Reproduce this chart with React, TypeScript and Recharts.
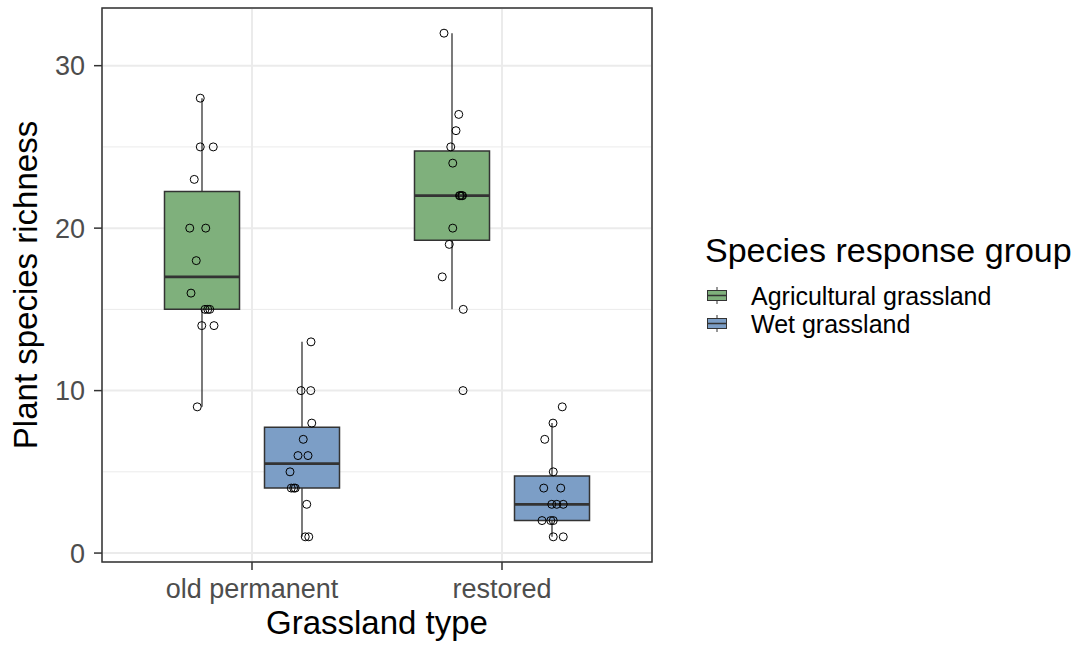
import {
  ComposedChart,
  Scatter,
  XAxis,
  YAxis,
  CartesianGrid,
  ReferenceArea,
  ReferenceLine,
  Legend,
  Label,
} from "recharts";

// grassland types on the x axis, response groups dodged inside each
const grasslandTypes = ["old permanent", "restored"];
const responseGroups = ["Agricultural grassland", "Wet grassland"];
const groupColors = ["#7fb07c", "#7c9ec6"];
const groupOffsets = [-0.2, 0.2];

const yTicks = [0, 10, 20, 30];
const yMinorTicks = [5, 15, 25];

// plant species richness per plot (jittered x)
const oldAgriRichness = [28, 25, 25, 23, 20, 20, 18, 16, 15, 15, 15, 14, 14, 9];
const oldAgriX = [0.793, 0.793, 0.845, 0.769, 0.751, 0.815, 0.777, 0.756, 0.812, 0.823, 0.831, 0.799, 0.848, 0.781];
const oldWetRichness = [13, 10, 10, 8, 7, 6, 6, 5, 4, 4, 4, 3, 1, 1];
const oldWetX = [1.236, 1.196, 1.235, 1.239, 1.205, 1.184, 1.224, 1.152, 1.157, 1.167, 1.173, 1.219, 1.213, 1.227];
const resAgriRichness = [32, 27, 26, 25, 24, 22, 22, 22, 22, 20, 19, 17, 15, 10];
const resAgriX = [1.768, 1.827, 1.816, 1.795, 1.803, 1.83, 1.833, 1.839, 1.842, 1.803, 1.789, 1.761, 1.845, 1.844];
const resWetRichness = [9, 8, 7, 5, 4, 4, 3, 3, 3, 2, 2, 2, 1, 1];
const resWetX = [2.241, 2.204, 2.171, 2.205, 2.167, 2.235, 2.199, 2.219, 2.245, 2.16, 2.195, 2.205, 2.205, 2.245];

const FONT = "'Liberation Sans', Arial, sans-serif";
const BOX_WIDTH = 0.3;

// R type 7 quantile
const quantile = (sorted: number[], p: number) => {
  const h = (sorted.length - 1) * p;
  const lo = Math.floor(h);
  const hi = Math.ceil(h);
  return sorted[lo] + (h - lo) * (sorted[hi] - sorted[lo]);
};

const boxStats = (values: number[]) => {
  const s = [...values].sort((a, b) => a - b);
  const q1 = quantile(s, 0.25);
  const med = quantile(s, 0.5);
  const q3 = quantile(s, 0.75);
  const iqr = q3 - q1;
  const lower = Math.min(...s.filter((v) => v >= q1 - 1.5 * iqr));
  const upper = Math.max(...s.filter((v) => v <= q3 + 1.5 * iqr));
  return { q1, med, q3, lower, upper };
};

const groups = [
  { type: 0, resp: 0, y: oldAgriRichness, x: oldAgriX },
  { type: 0, resp: 1, y: oldWetRichness, x: oldWetX },
  { type: 1, resp: 0, y: resAgriRichness, x: resAgriX },
  { type: 1, resp: 1, y: resWetRichness, x: resWetX },
].map((g) => ({
  ...g,
  center: g.type + 1 + groupOffsets[g.resp],
  fill: groupColors[g.resp],
  stats: boxStats(g.y),
}));

const points = groups.flatMap((g) => g.y.map((v, i) => ({ x: g.x[i], y: v })));

const HollowPoint = (props: any) => (
  <circle cx={props.cx} cy={props.cy} r={4} fill="none" stroke="#000" strokeWidth={1} />
);

const LegendBox = () => (
  <div style={{ fontFamily: FONT, color: "#000" }}>
    <div style={{ fontSize: 34, lineHeight: "34px", whiteSpace: "nowrap" }}>Species response group</div>
    <div style={{ marginTop: 15 }}>
      {responseGroups.map((name, i) => (
        <div key={name} style={{ position: "relative", height: 28, whiteSpace: "nowrap" }}>
          <svg width={24} height={28} style={{ position: "absolute", left: 2, top: 0 }}>
            <line x1={10} x2={10} y1={5} y2={22} stroke="#333" strokeWidth={1} />
            <rect x={0.5} y={8.5} width={19} height={10} fill={groupColors[i]} stroke="#333" strokeWidth={1} />
            <line x1={0.5} x2={19.5} y1={13.5} y2={13.5} stroke="#333" strokeWidth={1.5} />
          </svg>
          <div
            style={{
              position: "absolute",
              left: 46,
              top: 0,
              height: 28,
              fontSize: 25,
              lineHeight: "28px",
            }}
          >
            {name}
          </div>
        </div>
      ))}
    </div>
  </div>
);

const App = () => {
  return (
    <div style={{ position: "absolute", left: 0, top: 0, background: "#fff" }}>
      <ComposedChart
        width={1082}
        height={646}
        margin={{ top: 8, right: 430, left: 0, bottom: 0 }}
        style={{ fontFamily: FONT }}
      >
        <XAxis
          type="number"
          dataKey="x"
          domain={[0.4, 2.6]}
          ticks={[1, 2]}
          allowDataOverflow
          height={84}
          tickFormatter={(v: number) => grasslandTypes[v - 1]}
          tick={{ fill: "#4d4d4d", fontSize: 27, fontFamily: FONT }}
          tickSize={8}
          tickMargin={9}
          tickLine={{ stroke: "#333", strokeWidth: 1.5 }}
          axisLine={false}
        >
          <Label
            content={(p: any) => (
              <text
                x={p.viewBox.x + p.viewBox.width / 2}
                y={p.viewBox.y + 72}
                textAnchor="middle"
                fontSize={33}
                fontFamily={FONT}
                fill="#000"
              >
                Grassland type
              </text>
            )}
          />
        </XAxis>
        <YAxis
          type="number"
          dataKey="y"
          domain={[-0.55, 33.55]}
          ticks={yTicks}
          allowDataOverflow
          width={102}
          tick={{ fill: "#4d4d4d", fontSize: 27, fontFamily: FONT }}
          tickSize={8}
          tickMargin={9}
          tickLine={{ stroke: "#333", strokeWidth: 1.5 }}
          axisLine={false}
        >
          <Label
            content={(p: any) => {
              const cy = p.viewBox.y + p.viewBox.height / 2;
              return (
                <text
                  x={37}
                  y={cy}
                  transform={`rotate(-90, 37, ${cy})`}
                  textAnchor="middle"
                  fontSize={33}
                  fontFamily={FONT}
                  fill="#000"
                >
                  Plant species richness
                </text>
              );
            }}
          />
        </YAxis>
        <YAxis yAxisId="minor" type="number" domain={[-0.55, 33.55]} ticks={yMinorTicks} allowDataOverflow hide />

        <CartesianGrid yAxisId="minor" vertical={false} stroke="#ebebeb" strokeWidth={1} />
        <CartesianGrid stroke="#ebebeb" strokeWidth={2} />

        {groups.map((g) => (
          <ReferenceArea
            key={`box-${g.type}-${g.resp}`}
            x1={g.center - BOX_WIDTH / 2}
            x2={g.center + BOX_WIDTH / 2}
            y1={g.stats.q1}
            y2={g.stats.q3}
            fill={g.fill}
            fillOpacity={1}
            stroke="#333"
            strokeWidth={1.5}
          />
        ))}
        {groups.map((g) => (
          <ReferenceLine
            key={`wu-${g.type}-${g.resp}`}
            segment={[
              { x: g.center, y: g.stats.q3 },
              { x: g.center, y: g.stats.upper },
            ]}
            stroke="#333"
            strokeWidth={1.3}
          />
        ))}
        {groups.map((g) => (
          <ReferenceLine
            key={`wl-${g.type}-${g.resp}`}
            segment={[
              { x: g.center, y: g.stats.q1 },
              { x: g.center, y: g.stats.lower },
            ]}
            stroke="#333"
            strokeWidth={1.3}
          />
        ))}
        {groups.map((g) => (
          <ReferenceLine
            key={`med-${g.type}-${g.resp}`}
            segment={[
              { x: g.center - BOX_WIDTH / 2, y: g.stats.med },
              { x: g.center + BOX_WIDTH / 2, y: g.stats.med },
            ]}
            stroke="#333"
            strokeWidth={2.8}
          />
        ))}

        <Scatter data={points} shape={HollowPoint} isAnimationActive={false} />

        <ReferenceArea x1={0.4} x2={2.6} y1={-0.55} y2={33.55} fill="none" stroke="#333" strokeWidth={1.5} />

        <Legend
          layout="vertical"
          align="center"
          verticalAlign="middle"
          content={<LegendBox />}
          wrapperStyle={{ position: "absolute", left: 705, top: 233, width: 380 }}
        />
      </ComposedChart>
    </div>
  );
};

export default App;
